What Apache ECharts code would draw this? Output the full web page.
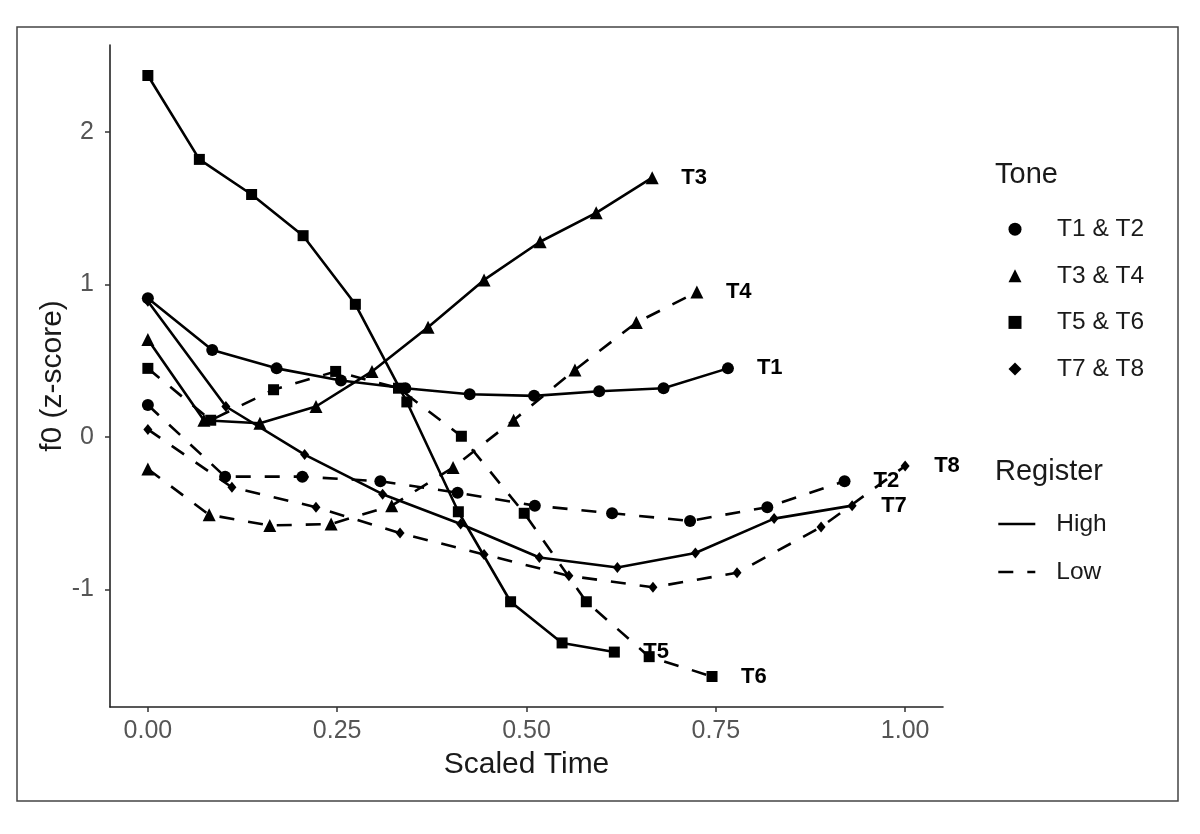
<!DOCTYPE html>
<html>
<head>
<meta charset="utf-8">
<script src="https://cdn.jsdelivr.net/npm/echarts@6/dist/echarts.min.js"></script>
<style>html,body{margin:0;padding:0;background:#fff}#c{width:1200px;height:834px}</style>
</head>
<body>
<div id="c"></div>
<script>
// ---- data ----
const xTicks = [0, 0.25, 0.5, 0.75, 1];
const yTicks = [-1, 0, 1, 2];

const t1Time = [0, 0.085, 0.17, 0.255, 0.34, 0.425, 0.51, 0.596, 0.681, 0.766];
const t1Val  = [0.91, 0.57, 0.45, 0.37, 0.32, 0.28, 0.27, 0.30, 0.32, 0.45];

const t2Time = [0, 0.102, 0.204, 0.307, 0.409, 0.511, 0.613, 0.716, 0.818, 0.92];
const t2Val  = [0.21, -0.26, -0.26, -0.29, -0.365, -0.45, -0.50, -0.55, -0.46, -0.29];

const t3Time = [0, 0.074, 0.148, 0.222, 0.296, 0.37, 0.444, 0.518, 0.592, 0.666];
const t3Val  = [0.64, 0.11, 0.09, 0.20, 0.43, 0.72, 1.03, 1.28, 1.47, 1.70];

const t4Time = [0, 0.081, 0.161, 0.242, 0.322, 0.403, 0.483, 0.564, 0.645, 0.725];
const t4Val  = [-0.21, -0.51, -0.58, -0.57, -0.45, -0.20, 0.11, 0.44, 0.75, 0.95];

const t5Time = [0, 0.068, 0.137, 0.205, 0.274, 0.342, 0.41, 0.479, 0.547, 0.616];
const t5Val  = [2.37, 1.82, 1.59, 1.32, 0.87, 0.23, -0.49, -1.08, -1.35, -1.41];

const t6Time = [0, 0.083, 0.166, 0.248, 0.331, 0.414, 0.497, 0.579, 0.662, 0.745];
const t6Val  = [0.45, 0.11, 0.31, 0.43, 0.32, 0.005, -0.50, -1.08, -1.44, -1.57];

const t7Time = [0, 0.103, 0.207, 0.31, 0.413, 0.517, 0.62, 0.723, 0.827, 0.93];
const t7Val  = [0.89, 0.20, -0.115, -0.375, -0.57, -0.79, -0.855, -0.76, -0.535, -0.45];

const t8Time = [0, 0.111, 0.222, 0.333, 0.444, 0.556, 0.667, 0.778, 0.889, 1.0];
const t8Val  = [0.05, -0.33, -0.46, -0.63, -0.77, -0.91, -0.985, -0.89, -0.59, -0.19];

const toneNames = ['T1', 'T2', 'T3', 'T4', 'T5', 'T6', 'T7', 'T8'];
const toneGroups = ['T1 & T2', 'T3 & T4', 'T5 & T6', 'T7 & T8'];
const registers = ['High', 'Low'];

// ---- styling ----
const FONT = "'Liberation Sans', Arial, Helvetica, sans-serif";
const times = [t1Time, t2Time, t3Time, t4Time, t5Time, t6Time, t7Time, t8Time];
const vals = [t1Val, t2Val, t3Val, t4Val, t5Val, t6Val, t7Val, t8Val];
const shapeOf = ['circle', 'triangle', 'rect', 'diamond'];
const sizeOf = [12, 13, 11, [9, 11]];
const DASH = [15, 14];

const series = toneNames.map((nm, i) => {
  const g = Math.floor(i / 2);
  const dashed = i % 2 === 1;
  return {
    name: nm,
    type: 'line',
    data: times[i].map((t, k) => [t, vals[i][k]]),
    symbol: shapeOf[g],
    symbolSize: sizeOf[g],
    showAllSymbol: true,
    itemStyle: { color: '#000' },
    lineStyle: { color: '#000', width: 2.6, type: dashed ? DASH : 'solid' },
    endLabel: {
      show: true, formatter: nm, distance: 29,
      fontFamily: FONT, fontSize: 22, fontWeight: 'bold', color: '#000'
    },
    z: 3
  };
});
// legend-only series
toneGroups.forEach((nm, g) => {
  series.push({ name: nm, type: 'line', data: [], symbol: shapeOf[g],
    itemStyle: { color: '#000' }, lineStyle: { color: '#000' } });
});
registers.forEach((nm, j) => {
  series.push({ name: nm, type: 'line', data: [], symbol: 'none',
    itemStyle: { color: '#000' },
    lineStyle: { color: '#000', width: 2.6, type: j === 1 ? DASH : 'solid' } });
});

const option = {
  animation: false,
  backgroundColor: '#fff',
  textStyle: { fontFamily: FONT },
  grid: { left: 110, right: 257, top: 45, bottom: 127 },
  title: [
    { text: 'Tone', left: 995, top: 160, padding: 0,
      textStyle: { fontFamily: FONT, fontSize: 29, fontWeight: 'normal', color: '#1a1a1a' } },
    { text: 'Register', left: 995, top: 457, padding: 0,
      textStyle: { fontFamily: FONT, fontSize: 29, fontWeight: 'normal', color: '#1a1a1a' } }
  ],
  legend: [
    {
      orient: 'vertical', left: 1008.5, top: 216.7, padding: 0,
      itemWidth: 13, itemHeight: 13, itemGap: 21.6, selectedMode: false,
      data: toneGroups.map((nm, g) => ({ name: nm, icon: shapeOf[g] })),
      itemStyle: { color: '#000' },
      textStyle: { fontFamily: FONT, fontSize: 24.5, color: '#1a1a1a', padding: [0, 0, 0, 30.5] }
    },
    {
      orient: 'vertical', left: 997, top: 511.5, padding: 0,
      itemWidth: 37, itemHeight: 13, itemGap: 23, selectedMode: false,
      data: registers.map(nm => ({ name: nm })),
      itemStyle: { opacity: 0 },
      lineStyle: { width: 2.6 },
      textStyle: { fontFamily: FONT, fontSize: 24.5, color: '#1a1a1a', padding: [0, 0, 0, 16] }
    }
  ],
  xAxis: {
    type: 'value', min: -0.05, max: 1.05,
    name: 'Scaled Time', nameLocation: 'middle', nameGap: 43, nameMoveOverlap: false,
    nameTextStyle: { fontFamily: FONT, fontSize: 30, color: '#1a1a1a' },
    splitLine: { show: false },
    axisLine: { show: true, onZero: false, lineStyle: { color: '#222', width: 1.6 } },
    axisTick: { show: true, length: 5, customValues: xTicks, lineStyle: { color: '#333', width: 1.5 } },
    axisLabel: { customValues: xTicks, margin: 12, fontFamily: FONT, fontSize: 25, color: '#555',
      formatter: v => v.toFixed(2) }
  },
  yAxis: {
    type: 'value', min: -1.77, max: 2.57,
    name: 'f0 (z-score)', nameLocation: 'middle', nameGap: 42, nameMoveOverlap: false,
    nameTextStyle: { fontFamily: FONT, fontSize: 30, color: '#1a1a1a', verticalAlign: 'bottom' },
    splitLine: { show: false },
    axisLine: { show: true, onZero: false, lineStyle: { color: '#222', width: 1.6 } },
    axisTick: { show: true, length: 5, customValues: yTicks, lineStyle: { color: '#333', width: 1.5 } },
    axisLabel: { customValues: yTicks, margin: 16, fontFamily: FONT, fontSize: 25, color: '#555',
      formatter: v => String(v) }
  },
  graphic: [
    { type: 'rect', z: -1, silent: true,
      shape: { x: 17, y: 27, width: 1161, height: 774 },
      style: { fill: 'none', stroke: '#444', lineWidth: 1.5 } }
  ],
  series: series
};

const chart = echarts.init(document.getElementById('c'), null, { renderer: 'canvas' });
chart.setOption(option);
</script>
</body>
</html>
